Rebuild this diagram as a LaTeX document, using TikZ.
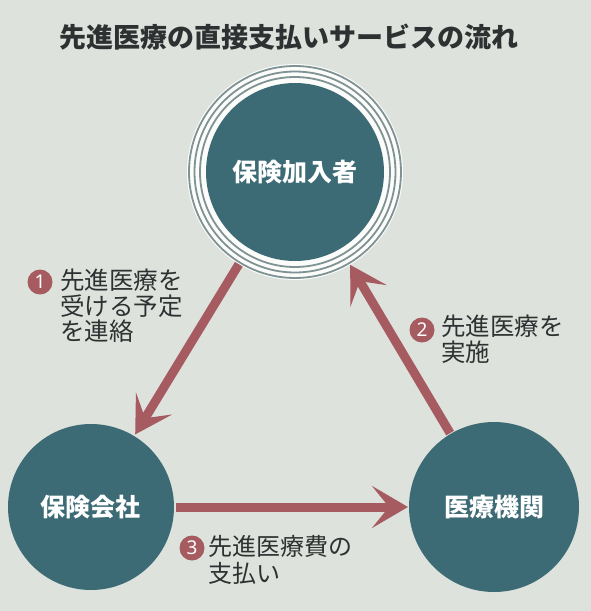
\documentclass[tikz,border=0pt]{standalone}
\usepackage{fontspec}
\usepackage{xcolor}
\usepackage{tikz}
\usetikzlibrary{arrows.meta,positioning}

\newfontfamily\jpfont{Noto Sans CJK JP}
\newfontfamily\numfont{Noto Sans}
\definecolor{paper}{HTML}{DDE2DC}
\definecolor{discblue}{HTML}{3D6B75}
\definecolor{flowred}{HTML}{A65B61}
\definecolor{inkgray}{HTML}{2E3131}
\definecolor{ringgray}{HTML}{7F9294}

\begin{document}
\begin{tikzpicture}[x=1pt,y=-1pt,>={Stealth[length=36pt,width=42pt,inset=17pt]},
                    disc/.style={circle, fill=discblue, text=white, inner sep=0pt,
                                 font=\jpfont\bfseries\fontsize{25}{25}\selectfont},
                    flow/.style={->, draw=flowred, fill=flowred, line width=9pt},
                    numdot/.style={circle, fill=flowred, text=white, inner sep=0pt,
                                   minimum size=25pt, font=\numfont\bfseries\fontsize{19}{19}\selectfont},
                    note/.style={inner sep=0pt, align=left, text=inkgray,
                                 font=\jpfont\fontsize{24.5}{25.5}\selectfont}]

  \fill[paper] (0,0) rectangle (591,611);
  \useasboundingbox (0,0) rectangle (591,611);

  \node[inner sep=0pt, text=inkgray, font=\jpfont\bfseries\fontsize{27}{27}\selectfont]
        (title) at (289,37) {先進医療の直接支払いサービスの流れ};

  % rings round the insured
  \fill[white!90!paper] (295,172) circle (108);
  \foreach \r in {106,100.5,95}
    \draw[ringgray, line width=1.8pt] (295,172) circle (\r);

  \node[disc, minimum size=178pt, outer sep=19pt] (ins) at (295,172) {保険加入者};
  \node[disc, minimum size=166pt, outer sep=2pt]  (co)  at (91,507)  {保険会社};
  \node[disc, minimum size=170pt, outer sep=1pt]  (med) at (494,507) {医療機関};

  \draw[flow] (ins) -- (co);
  \draw[flow] (med) -- (ins);
  \draw[flow] (co) -- (med);

  \node[numdot] (n1) at (40,282) {1};
  \node[note, anchor=north west] (t1) at (60,269) {先進医療を\\受ける予定\\を連絡};
  \node[numdot] (n2) at (422,330) {2};
  \node[note, anchor=north west] (t2) at (441,315) {先進医療を\\実施};
  \node[numdot] (n3) at (192,548) {3};
  \node[note, anchor=north west, font=\jpfont\fontsize{24}{27.5}\selectfont]
        (t3) at (208,535) {先進医療費の\\支払い};
\end{tikzpicture}
\end{document}
